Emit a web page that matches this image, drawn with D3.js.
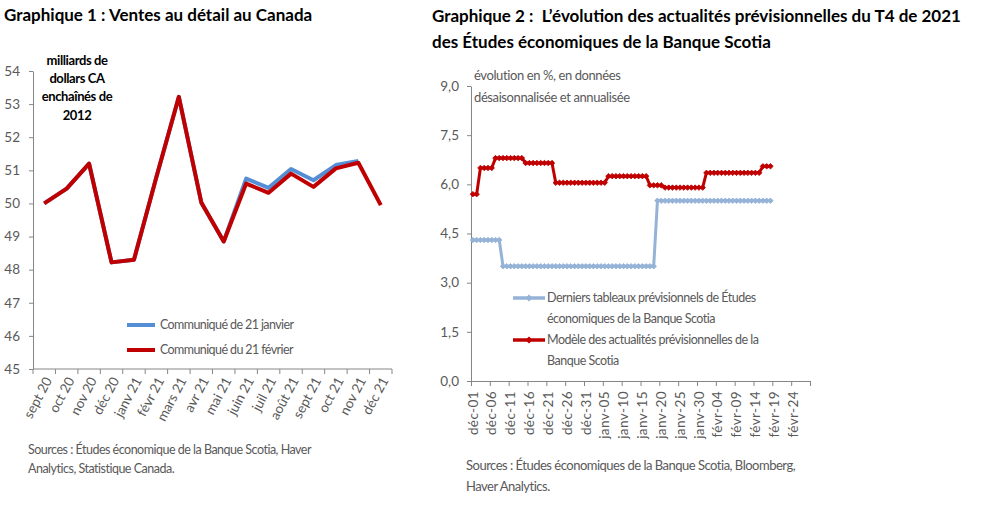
<!DOCTYPE html>
<html><head><meta charset="utf-8">
<script src="https://cdn.jsdelivr.net/npm/d3@7"></script>
<style>
body{margin:0;background:#fff;}
svg text{font-family:Lato,"Open Sans",sans-serif;}
</style></head>
<body><svg id="c" width="988" height="505"></svg>
<script>
// ---- Chart 1 data ----
const months = ["sept 20","oct 20","nov 20","déc 20","janv 21","févr 21","mars 21","avr 21","mai 21","juin 21","juil 21","août 21","sept 21","oct 21","nov 21","déc 21"];
const janRelease = [50.0,50.45,51.2,48.22,48.3,50.8,53.22,50.03,48.85,50.75,50.47,51.04,50.7,51.16,51.28];
const febRelease = [50.0,50.45,51.2,48.22,48.3,50.8,53.22,50.03,48.85,50.6,50.32,50.9,50.5,51.06,51.23,49.95];
const yTicks1 = [45,46,47,48,49,50,51,52,53,54];

// ---- Chart 2 data (daily, from 1 Dec 2021) ----
const nowcast = [5.7,5.7,
 6.5,6.5,6.5,6.5,
 6.8,6.8,6.8,6.8,6.8,6.8,6.8,6.8,
 6.65,6.65,6.65,6.65,6.65,6.65,6.65,6.65,
 6.05,6.05,6.05,6.05,6.05,6.05,6.05,6.05,6.05,6.05,6.05,6.05,6.05,6.05,
 6.25,6.25,6.25,6.25,6.25,6.25,6.25,6.25,6.25,6.25,6.25,
 5.97,5.97,5.97,5.97,
 5.9,5.9,5.9,5.9,5.9,5.9,5.9,5.9,5.9,5.9,5.9,
 6.35,6.35,6.35,6.35,6.35,6.35,6.35,6.35,6.35,6.35,6.35,6.35,6.35,6.35,6.35,
 6.55,6.55,6.55];
const forecastTables = [4.3,4.3,4.3,4.3,4.3,4.3,4.3,4.3,
 3.5,3.5,3.5,3.5,3.5,3.5,3.5,3.5,3.5,3.5,3.5,3.5,3.5,3.5,3.5,3.5,3.5,3.5,3.5,3.5,3.5,3.5,3.5,3.5,3.5,3.5,3.5,3.5,3.5,3.5,3.5,3.5,3.5,3.5,3.5,3.5,3.5,3.5,3.5,3.5,3.5,
 5.5,5.5,5.5,5.5,5.5,5.5,5.5,5.5,5.5,5.5,5.5,5.5,5.5,5.5,5.5,5.5,5.5,5.5,5.5,5.5,5.5,5.5,5.5,5.5,5.5,5.5,5.5,5.5,5.5,5.5,5.5];
const xTickLabels2 = ["déc-01","déc-06","déc-11","déc-16","déc-21","déc-26","déc-31","janv-05","janv-10","janv-15","janv-20","janv-25","janv-30","févr-04","févr-09","févr-14","févr-19","févr-24"];
const yTicks2 = [0,1.5,3,4.5,6,7.5,9];
const yTickLabels2 = ["0,0","1,5","3,0","4,5","6,0","7,5","9,0"];

const svg = d3.select("#c");
const gray = "#595959", axisCol = "#868686";
const red = "#C00000", blue1 = "#558ED5", blue2 = "#95B3D7";

// ================= Chart 1 =================
svg.append("text").attr("x",4).attr("y",21).attr("font-size",17).attr("font-weight","bold").attr("fill","#000")
  .text("Graphique 1 : Ventes au détail au Canada");

const x1 = d3.scalePoint().domain(months).range([33,392]).padding(0.5);
const x1b = d3.scaleBand().domain(months).range([33,392]);
const y1 = d3.scaleLinear().domain([45,54]).range([369,71]);

const ya1 = svg.append("g").attr("transform","translate(33,0)")
  .call(d3.axisLeft(y1).tickValues(yTicks1).tickSize(4).tickPadding(9).tickSizeOuter(0));
ya1.selectAll("text").attr("font-size",13.5).attr("fill",gray).attr("font-family","Lato");
ya1.selectAll("line,path").attr("stroke",axisCol);

const xa1 = svg.append("g").attr("transform","translate(0,369)");
xa1.append("line").attr("x1",33).attr("x2",392).attr("stroke",axisCol);
xa1.selectAll("line.t").data(months.concat(["end"])).join("line").attr("class","t")
  .attr("x1",(d,i)=> i<months.length ? x1b(d) : 392).attr("x2",(d,i)=> i<months.length ? x1b(d) : 392)
  .attr("y1",0).attr("y2",5).attr("stroke",axisCol);
xa1.selectAll("text").data(months).join("text")
  .attr("transform",d=>`translate(${x1(d)+4},9) rotate(-62)`)
  .attr("text-anchor","end").attr("dy","0.35em").attr("font-size",13.5).attr("fill",gray).text(d=>d);

const unitL = ["milliards de","dollars CA","enchaînés de","2012"];
svg.append("g").selectAll("text").data(unitL).join("text")
  .attr("x",77).attr("y",(d,i)=>60+i*18.4).attr("dy","0.35em").attr("text-anchor","middle")
  .attr("font-size",13).attr("font-weight","bold").attr("letter-spacing","-0.4").attr("fill","#000").text(d=>d);

const line1 = d3.line().x((d,i)=>x1(months[i])).y(d=>y1(d));
svg.append("path").datum(janRelease).attr("d",line1).attr("fill","none").attr("stroke",blue1).attr("stroke-width",4).attr("stroke-linejoin","round");
svg.append("path").datum(febRelease).attr("d",line1).attr("fill","none").attr("stroke",red).attr("stroke-width",4).attr("stroke-linejoin","round");

const leg1 = [{n:"Communiqué de 21 janvier",c:blue1,y:325},{n:"Communiqué du 21 février",c:red,y:350}];
leg1.forEach(l=>{
  svg.append("line").attr("x1",127).attr("x2",155).attr("y1",l.y).attr("y2",l.y).attr("stroke",l.c).attr("stroke-width",4);
  svg.append("text").attr("x",160).attr("y",l.y).attr("dy","0.35em").attr("font-size",12.5).attr("fill",gray).attr("letter-spacing","-0.6").text(l.n);
});

svg.append("text").attr("x",28).attr("y",454).attr("font-size",12.5).attr("fill",gray).attr("letter-spacing","-0.5")
  .text("Sources : Études économique de la Banque Scotia, Haver");
svg.append("text").attr("x",28).attr("y",473).attr("font-size",12.5).attr("fill",gray).attr("letter-spacing","-0.5")
  .text("Analytics, Statistique Canada.");

// ================= Chart 2 =================
svg.append("text").attr("x",432).attr("y",22).attr("font-size",17).attr("font-weight","bold").attr("fill","#000")
  .text("Graphique 2 :\u00A0 L’évolution des actualités prévisionnelles du T4 de 2021");
svg.append("text").attr("x",432).attr("y",48).attr("font-size",17).attr("font-weight","bold").attr("fill","#000")
  .text("des Études économiques de la Banque Scotia");

const days = d3.range(90);
const x2 = d3.scaleBand().domain(days).range([471,810]);
const xc = i => x2(i) + x2.bandwidth()/2;
const y2 = d3.scaleLinear().domain([0,9]).range([381,86]);

const ya2 = svg.append("g").attr("transform","translate(471,0)")
  .call(d3.axisLeft(y2).tickValues(yTicks2).tickFormat((d,i)=>yTickLabels2[i]).tickSize(4).tickPadding(8).tickSizeOuter(0));
ya2.selectAll("text").attr("font-size",13.5).attr("fill",gray).attr("font-family","Lato");
ya2.selectAll("line,path").attr("stroke",axisCol);

const xlin = d3.scaleLinear().domain([0,90]).range([471,810]);
const xa2 = svg.append("g").attr("transform","translate(0,381)")
  .call(d3.axisBottom(xlin).tickValues(d3.range(0,91,5)).tickFormat("").tickSize(5).tickSizeOuter(0));
xa2.selectAll("line,path").attr("stroke",axisCol);
svg.append("g").selectAll("text").data(xTickLabels2).join("text")
  .attr("transform",(d,i)=>`translate(${xc(i*5)},391) rotate(-90)`)
  .attr("text-anchor","end").attr("dy","0.35em").attr("font-size",13.5).attr("letter-spacing","0.4").attr("fill",gray).text(d=>d);

svg.append("text").attr("x",474).attr("y",75).attr("dy","0.35em").attr("font-size",13).attr("fill",gray).attr("letter-spacing","-0.4")
  .text("évolution en %, en données");
svg.append("text").attr("x",474).attr("y",97).attr("dy","0.35em").attr("font-size",13).attr("fill",gray).attr("letter-spacing","-0.4")
  .text("désaisonnalisée et annualisée");

const line2 = d3.line().x((d,i)=>xc(i)).y(d=>y2(d));
const diamond = d3.symbol().type(d3.symbolSquare).size(15);
function series(data,col){
  svg.append("path").datum(data).attr("d",line2).attr("fill","none").attr("stroke",col).attr("stroke-width",3);
  svg.append("g").selectAll("path").data(data).join("path").attr("d",diamond)
    .attr("transform",(d,i)=>`translate(${xc(i)},${y2(d)}) rotate(45)`).attr("fill",col).attr("stroke",col).attr("stroke-width",0.8);
}
series(forecastTables, blue2);
series(nowcast, red);

const leg2 = [
  {c:blue2,y:298,t:["Derniers tableaux prévisionnels de Études","économiques de la Banque Scotia"]},
  {c:red,y:340,t:["Modèle des actualités prévisionnelles de la","Banque Scotia"]}];
leg2.forEach(l=>{
  svg.append("line").attr("x1",513).attr("x2",545).attr("y1",l.y).attr("y2",l.y).attr("stroke",l.c).attr("stroke-width",3.5);
  svg.append("path").attr("d",diamond).attr("transform",`translate(529,${l.y}) rotate(45)`).attr("fill",l.c).attr("stroke",l.c);
  l.t.forEach((s,j)=>svg.append("text").attr("x",547).attr("y",l.y+j*20.5).attr("dy","0.35em").attr("font-size",12.5)
    .attr("fill",gray).attr("letter-spacing","-0.5").text(s));
});

svg.append("text").attr("x",466).attr("y",470).attr("font-size",13).attr("fill",gray).attr("letter-spacing","-0.5")
  .text("Sources : Études économiques de la Banque Scotia, Bloomberg,");
svg.append("text").attr("x",466).attr("y",491).attr("font-size",13).attr("fill",gray).attr("letter-spacing","-0.5")
  .text("Haver Analytics.");
</script></body></html>
